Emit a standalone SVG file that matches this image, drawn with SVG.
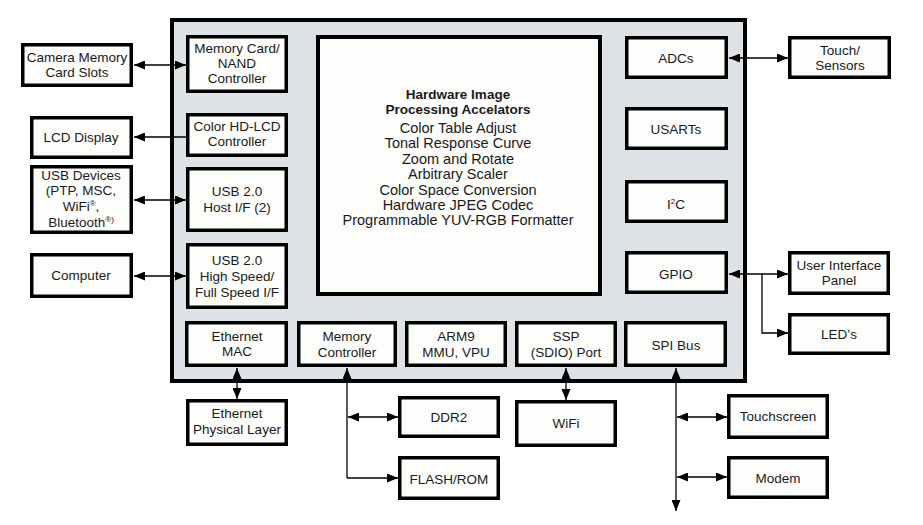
<svg xmlns="http://www.w3.org/2000/svg" width="923" height="525" viewBox="0 0 923 525">
<style>
.box{fill:#fdfdfb;stroke:#000;stroke-width:3.5}
.chip{fill:#dce2e5;stroke:#000;stroke-width:4}
text{font-family:"Liberation Sans",Arial,sans-serif;font-size:13.5px;fill:#1a1a1a;text-anchor:middle}
.b{font-weight:bold}
.big{font-size:14.5px}
.c{fill:none;stroke:#000;stroke-width:1.3}
.sup{font-size:8px}
</style>
<defs>
<marker id="ah" markerUnits="userSpaceOnUse" markerWidth="11" markerHeight="9" refX="11" refY="4.5" orient="auto-start-reverse">
<path d="M0,0 L11,4.5 L0,9 z" fill="#000"/>
</marker>
</defs>
<rect width="923" height="525" fill="#fff"/>
<g id="chip"><rect class="chip" x="172" y="20" width="573" height="361"/></g>

<g id="memcard"><rect class="box" x="187.75" y="36.75" width="98.5" height="54.5"/><text x="237" y="53">Memory Card/</text><text x="237" y="68">NAND</text><text x="237" y="83">Controller</text></g>
<g id="colorlcd"><rect class="box" x="187.75" y="114.75" width="98.5" height="40.5"/><text x="237" y="131">Color HD-LCD</text><text x="237" y="146">Controller</text></g>
<g id="usbhost"><rect class="box" x="187.75" y="168.75" width="98.5" height="61.5"/><text x="237" y="196">USB 2.0</text><text x="237" y="212">Host I/F (2)</text></g>
<g id="usbhs"><rect class="box" x="187.75" y="244.75" width="98.5" height="62.5"/><text x="237" y="265">USB 2.0</text><text x="237" y="281">High Speed/</text><text x="237" y="297">Full Speed I/F</text></g>

<g id="hwimg"><rect class="box" x="318" y="37" width="282" height="257" style="stroke-width:4"/>
<text class="b" x="458" y="99">Hardware Image</text>
<text class="b" x="458" y="114">Processing Accelators</text>
<text class="big" x="458" y="133">Color Table Adjust</text>
<text class="big" x="458" y="148">Tonal Response Curve</text>
<text class="big" x="458" y="164">Zoom and Rotate</text>
<text class="big" x="458" y="179">Arbitrary Scaler</text>
<text class="big" x="458" y="195">Color Space Conversion</text>
<text class="big" x="458" y="210">Hardware JPEG Codec</text>
<text class="big" x="458" y="225">Programmable YUV-RGB Formatter</text></g>

<g id="adcs"><rect class="box" x="626.75" y="37.75" width="99.5" height="39.5"/><text x="676" y="63">ADCs</text></g>
<g id="usarts"><rect class="box" x="626.75" y="108.75" width="99.5" height="39.5"/><text x="676" y="134">USARTs</text></g>
<g id="i2c"><rect class="box" x="626.75" y="181.75" width="99.5" height="39.5"/><text x="676" y="209">I<tspan class="sup" dy="-5">2</tspan><tspan dy="5">C</tspan></text></g>
<g id="gpio"><rect class="box" x="626.75" y="252.75" width="99.5" height="39.5"/><text x="676" y="279">GPIO</text></g>

<g id="ethmac"><rect class="box" x="186.75" y="322.75" width="99.5" height="42.5"/><text x="237" y="341">Ethernet</text><text x="237" y="356">MAC</text></g>
<g id="memctrl"><rect class="box" x="298.75" y="322.75" width="96.5" height="42.5"/><text x="347" y="341">Memory</text><text x="347" y="357">Controller</text></g>
<g id="arm9"><rect class="box" x="406.75" y="322.75" width="98.5" height="42.5"/><text x="456" y="341">ARM9</text><text x="456" y="357">MMU, VPU</text></g>
<g id="ssp"><rect class="box" x="516.75" y="322.75" width="98.5" height="42.5"/><text x="566" y="341">SSP</text><text x="566" y="357">(SDIO) Port</text></g>
<g id="spi"><rect class="box" x="625.75" y="322.75" width="99.5" height="42.5"/><text x="676" y="350">SPI Bus</text></g>

<g id="camera"><rect class="box" x="22.75" y="44.75" width="108.5" height="40.5"/><text x="77" y="62">Camera Memory</text><text x="77" y="77">Card Slots</text></g>
<g id="lcd"><rect class="box" x="31.75" y="117.75" width="99.5" height="39.5"/><text x="81" y="142">LCD Display</text></g>
<g id="usbdev"><rect class="box" x="31.75" y="166.75" width="99.5" height="65.5"/><text x="81" y="180">USB Devices</text><text x="81" y="195">(PTP, MSC,</text><text x="81" y="211">WiFi<tspan class="sup" dy="-5">®</tspan><tspan dy="5">,</tspan></text><text x="81" y="227">Bluetooth<tspan class="sup" dy="-5">®)</tspan></text></g>
<g id="computer"><rect class="box" x="31.75" y="254.75" width="99.5" height="41.5"/><text x="81" y="280">Computer</text></g>

<g id="touchsensors"><rect class="box" x="789.75" y="37.75" width="99.5" height="39.5"/><text x="840" y="55">Touch/</text><text x="840" y="70">Sensors</text></g>
<g id="uipanel"><rect class="box" x="789.75" y="252.75" width="98.5" height="40.5"/><text x="839" y="270">User Interface</text><text x="839" y="285">Panel</text></g>
<g id="leds"><rect class="box" x="789.75" y="314.75" width="98.5" height="38.5"/><text x="839" y="339">LED’s</text></g>

<g id="ethphy"><rect class="box" x="187.75" y="400.75" width="98.5" height="43.5"/><text x="237" y="418">Ethernet</text><text x="237" y="434">Physical Layer</text></g>
<g id="ddr2"><rect class="box" x="399.75" y="397.75" width="98.5" height="38.5"/><text x="449" y="422">DDR2</text></g>
<g id="flash"><rect class="box" x="399.75" y="457.75" width="98.5" height="40.5"/><text x="449" y="484">FLASH/ROM</text></g>
<g id="wifi"><rect class="box" x="516.75" y="401.75" width="98.5" height="43.5"/><text x="566" y="428">WiFi</text></g>
<g id="touchscreen"><rect class="box" x="728.75" y="395.75" width="98.5" height="41.5"/><text x="778" y="421">Touchscreen</text></g>
<g id="modem"><rect class="box" x="728.75" y="457.75" width="98.5" height="39.5"/><text x="778" y="483">Modem</text></g>

<g id="connectors">
<line class="c" x1="134" y1="65" x2="186" y2="65" marker-start="url(#ah)" marker-end="url(#ah)"/>
<line class="c" x1="186" y1="137" x2="134" y2="137" marker-end="url(#ah)"/>
<line class="c" x1="134" y1="200" x2="186" y2="200" marker-start="url(#ah)" marker-end="url(#ah)"/>
<line class="c" x1="134" y1="276" x2="186" y2="276" marker-start="url(#ah)" marker-end="url(#ah)"/>
<line class="c" x1="729" y1="58" x2="788" y2="58" marker-start="url(#ah)" marker-end="url(#ah)"/>
<line class="c" x1="729" y1="274" x2="788" y2="274" marker-start="url(#ah)" marker-end="url(#ah)"/>
<path class="c" d="M762,274 V333 H788" marker-end="url(#ah)"/>
<line class="c" x1="237" y1="368" x2="237" y2="399" marker-start="url(#ah)" marker-end="url(#ah)"/>
<path class="c" d="M347,478 V368" marker-end="url(#ah)"/>
<path class="c" d="M347,478 H398" marker-end="url(#ah)"/>
<line class="c" x1="348" y1="417" x2="398" y2="417" marker-start="url(#ah)" marker-end="url(#ah)"/>
<line class="c" x1="566" y1="368" x2="566" y2="400" marker-start="url(#ah)" marker-end="url(#ah)"/>
<line class="c" x1="676" y1="368" x2="676" y2="511" marker-start="url(#ah)" marker-end="url(#ah)"/>
<line class="c" x1="677" y1="417" x2="727" y2="417" marker-start="url(#ah)" marker-end="url(#ah)"/>
<line class="c" x1="677" y1="477" x2="727" y2="477" marker-start="url(#ah)" marker-end="url(#ah)"/>
</g>
</svg>
